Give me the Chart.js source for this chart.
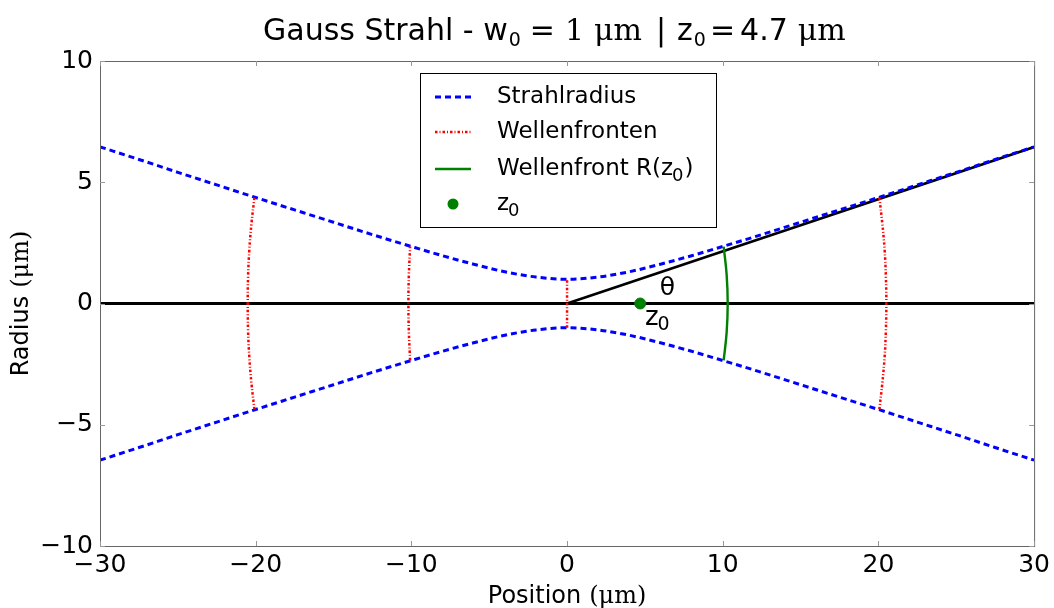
<!DOCTYPE html>
<html><head><meta charset="utf-8">
<script src="https://cdn.jsdelivr.net/npm/chart.js@4.4.1/dist/chart.umd.min.js"></script>
<style>html,body{margin:0;padding:0;background:#fff}#wrap{width:1054px;height:608px}</style>
</head><body><div id="wrap"><canvas id="c" width="1054" height="608"></canvas></div>
<script>
// beam radius
const zVals = [-30,-27.5,-25,-22.5,-20,-17.5,-15,-12.5,-10,-8,-6,-4,-2,0,2,4,6,8,10,12.5,15,17.5,20,22.5,25,27.5,30];
const wVals = [6.46,5.94,5.41,4.89,4.37,3.86,3.35,2.84,2.35,1.97,1.62,1.31,1.09,1.00,1.09,1.31,1.62,1.97,2.35,2.84,3.35,3.86,4.37,4.89,5.41,5.94,6.46];
// wavefronts
const frontY20 = [-4.37,-3.3,-2.2,-1.1,0,1.1,2.2,3.3,4.37];
const frontXm20 = [-20.08,-20.27,-20.41,-20.49,-20.51,-20.49,-20.41,-20.27,-20.08];
const frontXp20 = [20.06,20.25,20.40,20.48,20.51,20.48,20.40,20.25,20.06];
const frontY10 = [-2.35,-1.2,0,1.2,2.35];
const frontXm10 = [-10.08,-10.16,-10.19,-10.16,-10.08];
const frontXp10 = [10.06,10.25,10.32,10.25,10.06];
const frontY0 = [-1,1];
const frontX0 = [0,0];
// black reference lines
const axisX = [-30,30], axisY = [0,0];
const thetaX = [0,30], thetaY = [0,6.45];
// Rayleigh length marker
const z0X = [4.7], z0Y = [0];
// tick labels
const xTicks = [-30,-20,-10,0,10,20,30];
const yTicks = [-10,-5,0,5,10];
// texts
const titleText = 'Gauss Strahl - w\u2080 = 1 \u03bcm | z\u2080 = 4.7 \u03bcm';
const xTitle = 'Position (\u03bcm)';
const yTitle = 'Radius (\u03bcm)';

const pts = (xs, ys) => xs.map((x,i)=>({x:x, y:ys[i]}));
const SANS = "'DejaVu Sans', sans-serif";
const SERIF = "'DejaVu Serif', serif";
const minus = v => String(v).replace('-', '\u2212');

// draw a sequence of runs [text, font, dy, gapBefore]
function drawRuns(ctx, runs, x, y){
  let cx = x;
  runs.forEach(r=>{
    cx += r[3]||0;
    ctx.font = r[1];
    ctx.fillText(r[0], cx, y + (r[2]||0));
    cx += ctx.measureText(r[0]).width;
  });
  return cx;
}
function runsWidth(ctx, runs){
  let w=0; runs.forEach(r=>{ctx.font=r[1]; w+=(r[3]||0)+ctx.measureText(r[0]).width;}); return w;
}

const frame = {
  id:'frame',
  afterDraw(chart){
    const {ctx, chartArea:a, scales:{x,y}} = chart;
    ctx.save();
    ctx.strokeStyle='#666'; ctx.lineWidth=1;
    ctx.strokeRect(a.left+0.5,a.top+0.5,a.right-a.left,a.bottom-a.top);
    ctx.strokeStyle='#999';
    ctx.beginPath();
    xTicks.forEach(v=>{const px=Math.round(x.getPixelForValue(v))+0.5;
      ctx.moveTo(px,a.bottom);ctx.lineTo(px,a.bottom-5);ctx.moveTo(px,a.top);ctx.lineTo(px,a.top+5);});
    yTicks.forEach(v=>{const py=Math.round(y.getPixelForValue(v))+0.5;
      ctx.moveTo(a.left,py);ctx.lineTo(a.left+5,py);ctx.moveTo(a.right,py);ctx.lineTo(a.right-5,py);});
    ctx.stroke();
    ctx.fillStyle='#000'; ctx.textAlign='left'; ctx.textBaseline='alphabetic';
    // title
    const T = "30px "+SANS, TS = "19px "+SANS, TR = "30px "+SERIF;
    drawRuns(ctx, [
      ['Gauss Strahl - w',T,0,0],['0',TS,6,1],['=',T,0,9],['1',TR,0,10],['\u03bcm',TR,0,10],
      ['|',T,0,14],['z',T,0,11],['0',TS,6,1],['=',T,0,4],['4.7',T,0,5],['\u03bcm',TR,0,10]
    ], 263, 40);
    // x axis title
    const XR = [['Position',"24px "+SANS,0,0],['(\u03bcm)',"24px "+SERIF,0,8]];
    const xw = runsWidth(ctx, XR);
    drawRuns(ctx, XR, (a.left+a.right)/2 - xw/2, 603);
    // y axis title
    ctx.save();
    ctx.translate(28, (a.top+a.bottom)/2); ctx.rotate(-Math.PI/2);
    const YR = [['Radius',"24px "+SANS,0,0],['(\u03bcm)',"24px "+SERIF,0,8]];
    const yw = runsWidth(ctx, YR);
    drawRuns(ctx, YR, -yw/2, 0);
    ctx.restore();
    // annotations
    ctx.textBaseline='middle'; ctx.textAlign='center';
    ctx.font="25px "+SANS;
    ctx.fillText('\u03b8', x.getPixelForValue(6.45), y.getPixelForValue(0.6));
    ctx.textAlign='left';
    const zx = x.getPixelForValue(5.0), zy = y.getPixelForValue(-0.6);
    ctx.font="26px "+SANS;
    ctx.fillText('z', zx, zy);
    const zw = ctx.measureText('z').width;
    ctx.font="19px "+SANS;
    ctx.fillText('0', zx+zw-1, zy+7);
    // legend
    const bx=a.left+320, by=a.top+12, bw=296, bh=154;
    ctx.fillStyle='#fff'; ctx.fillRect(bx,by,bw,bh);
    ctx.strokeStyle='#000'; ctx.lineWidth=1; ctx.strokeRect(bx+0.5,by+0.5,bw,bh);
    const rows=[by+24,by+59,by+96,by+131];
    const sx0=bx+15, sx1=bx+51;
    ctx.lineWidth=3; ctx.strokeStyle='#0000ff'; ctx.setLineDash([6,4]);
    ctx.beginPath(); ctx.moveTo(sx0,rows[0]); ctx.lineTo(sx1,rows[0]); ctx.stroke();
    ctx.lineWidth=2.5; ctx.strokeStyle='#ff0000'; ctx.setLineDash([2.5,2,1,2]);
    ctx.beginPath(); ctx.moveTo(sx0,rows[1]); ctx.lineTo(sx1,rows[1]); ctx.stroke();
    ctx.setLineDash([]); ctx.lineWidth=2.5; ctx.strokeStyle='#008000';
    ctx.beginPath(); ctx.moveTo(sx0,rows[2]); ctx.lineTo(sx1,rows[2]); ctx.stroke();
    ctx.fillStyle='#008000'; ctx.beginPath(); ctx.arc((sx0+sx1)/2,rows[3],5.5,0,Math.PI*2); ctx.fill();
    ctx.fillStyle='#000'; ctx.textAlign='left';
    const tx=bx+77;
    ctx.font="23px "+SANS;
    ctx.fillText('Strahlradius',tx,rows[0]);
    ctx.fillText('Wellenfronten',tx,rows[1]);
    const t3='Wellenfront R(z';
    ctx.fillText(t3,tx,rows[2]);
    let w3=ctx.measureText(t3).width;
    ctx.font="18px "+SANS; ctx.fillText('0',tx+w3-1,rows[2]+7);
    const w0=ctx.measureText('0').width;
    ctx.font="23px "+SANS; ctx.fillText(')',tx+w3+w0,rows[2]);
    ctx.fillText('z',tx,rows[3]);
    const wz=ctx.measureText('z').width;
    ctx.font="18px "+SANS; ctx.fillText('0',tx+wz-1,rows[3]+7);
    ctx.restore();
  }
};

new Chart(document.getElementById('c'), {
  type:'scatter',
  data:{datasets:[
    {label:'axis', data:pts(axisX,axisY), showLine:true, borderColor:'#000', borderWidth:3.2, pointRadius:0, order:10},
    {label:'theta', data:pts(thetaX,thetaY), showLine:true, borderColor:'#000', borderWidth:2.6, pointRadius:0, order:9},
    {label:'Strahlradius', data:pts(zVals,wVals), showLine:true, borderColor:'#0000ff', borderWidth:3, borderDash:[6,4], pointRadius:0, cubicInterpolationMode:'monotone', order:5},
    {label:'Strahlradius unten', data:pts(zVals,wVals.map(v=>-v)), showLine:true, borderColor:'#0000ff', borderWidth:3, borderDash:[6,4], pointRadius:0, cubicInterpolationMode:'monotone', order:5},
    {label:'Wellenfronten', data:pts(frontXm20,frontY20), showLine:true, borderColor:'#ff0000', borderWidth:2.5, borderDash:[2.5,2,1,2], pointRadius:0, tension:0.4, order:4},
    {label:'Wellenfronten -10', data:pts(frontXm10,frontY10), showLine:true, borderColor:'#ff0000', borderWidth:2.5, borderDash:[2.5,2,1,2], pointRadius:0, tension:0.4, order:4},
    {label:'Wellenfronten 0', data:pts(frontX0,frontY0), showLine:true, borderColor:'#ff0000', borderWidth:2.5, borderDash:[2.5,2,1,2], pointRadius:0, order:4},
    {label:'Wellenfronten 20', data:pts(frontXp20,frontY20), showLine:true, borderColor:'#ff0000', borderWidth:2.5, borderDash:[2.5,2,1,2], pointRadius:0, tension:0.4, order:4},
    {label:'Wellenfront R(z0)', data:pts(frontXp10,frontY10), showLine:true, borderColor:'#008000', borderWidth:2.4, pointRadius:0, tension:0.4, order:3},
    {label:'z0', data:pts(z0X,z0Y), showLine:false, pointRadius:5.5, pointBackgroundColor:'#008000', pointBorderColor:'#008000', order:1}
  ]},
  options:{
    responsive:false, animation:false, events:[],
    layout:{padding:{top:61,right:18,left:0,bottom:0}},
    plugins:{
      legend:{display:false}, tooltip:{enabled:false},
      title:{display:false, text:titleText}
    },
    scales:{
      x:{type:'linear', min:-30, max:30, afterFit:s=>{s.height=62;},
        afterBuildTicks:s=>{s.ticks=xTicks.map(v=>({value:v}));},
        grid:{display:false, drawTicks:false}, border:{display:false},
        ticks:{color:'#000', font:{family:SANS,size:25}, padding:4, maxRotation:0, callback:v=>minus(v)},
        title:{display:false, text:xTitle}},
      y:{type:'linear', min:-10, max:10, afterFit:s=>{s.width=100;},
        afterBuildTicks:s=>{s.ticks=yTicks.map(v=>({value:v}));},
        grid:{display:false, drawTicks:false}, border:{display:false},
        ticks:{color:'#000', font:{family:SANS,size:25}, padding:7, callback:v=>minus(v)},
        title:{display:false, text:yTitle}}
    }
  },
  plugins:[frame]
});
</script></body></html>
